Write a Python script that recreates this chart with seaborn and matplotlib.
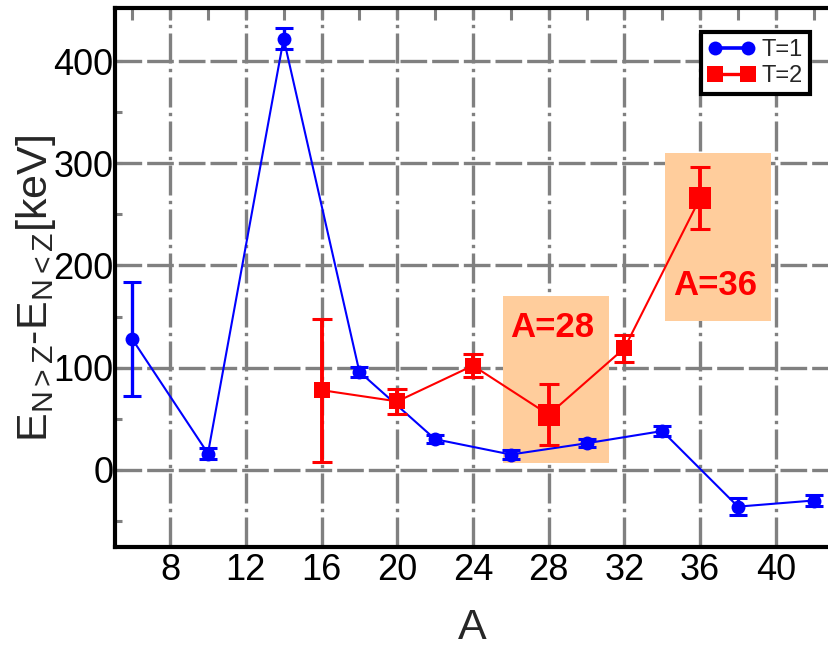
import matplotlib
matplotlib.use("Agg")
import matplotlib.pyplot as plt
import seaborn as sns
import pandas as pd
from matplotlib.lines import Line2D
from matplotlib.patches import Rectangle
from matplotlib.ticker import FixedLocator

# Mirror energy differences, T=1 and T=2 multiplets
a_t1 = [6, 10, 14, 18, 22, 26, 30, 34, 38, 42]
med_t1 = [128, 16, 422, 96, 30, 15, 26, 38, -36, -30]
err_t1 = [56, 5, 10, 5, 4, 4, 4, 5, 8, 5]

a_t2 = [16, 20, 24, 28, 32, 36]
med_t2 = [78, 67, 102, 54, 119, 266]
err_t2 = [70, 12, 11, 30, 13, 30]

series_labels = ["T=1", "T=2"]
highlight_a = [28, 36]
highlight_labels = ["A=28", "A=36"]

x_ticks = [8, 12, 16, 20, 24, 28, 32, 36, 40]
x_minor = [6, 10, 14, 18, 22, 26, 30, 34, 38, 42]
y_ticks = [0, 100, 200, 300, 400]
y_minor = [-50, 50, 150, 250, 350]

BLUE = "#0000ff"
RED = "#ff0000"
GRID = "#808080"
HIGHLIGHT = "#ffcd9c"

sns.set_theme(style="white")
plt.rcParams["font.family"] = ["Liberation Sans", "DejaVu Sans"]
plt.rcParams["mathtext.fontset"] = "custom"
plt.rcParams["mathtext.rm"] = "Liberation Sans"
plt.rcParams["mathtext.it"] = "Liberation Sans"
plt.rcParams["mathtext.bf"] = "Liberation Sans:bold"

fig = plt.figure(figsize=(8.29, 6.53), dpi=100)
ax = fig.add_axes([115 / 829, 1 - 547 / 653, 1 - 115 / 829, (547 - 8) / 653])

df1 = pd.DataFrame({"A": a_t1, "E": med_t1, "err": err_t1})
df2 = pd.DataFrame({"A": a_t2, "E": med_t2, "err": err_t2})

# grid drawn manually so horizontal and vertical lines get their own dash styles
for yv in y_ticks:
    ax.axhline(yv, color=GRID, lw=2.4, ls=(0, (8, 1.5)), zorder=0.5)
for xv in x_ticks:
    ax.axvline(xv, color=GRID, lw=2.4, ls=(0, (9, 1.6, 1, 1.6)), zorder=0.5)

# highlighted regions
boxes = {28: (25.6, 6.6, 5.6, 163.4), 36: (34.15, 146.0, 5.6, 164.0)}
text_pos = {28: (28.2, 139), 36: (36.8, 180)}
for a, lab in zip(highlight_a, highlight_labels):
    x0, y0, w, h = boxes[a]
    ax.add_patch(Rectangle((x0, y0), w, h, facecolor=HIGHLIGHT, edgecolor="none", zorder=1))
    tx, ty = text_pos[a]
    ax.text(tx, ty, lab, color=RED, fontsize=25, ha="center", va="center",
            fontweight="bold", zorder=6)

# T=1 series
sns.lineplot(data=df1, x="A", y="E", color=BLUE, lw=1.5, marker="o", markersize=10,
             markeredgewidth=0, ax=ax, zorder=3, legend=False)
ax.errorbar(df1["A"], df1["E"], yerr=df1["err"], fmt="none", ecolor=BLUE,
            elinewidth=2.4, capsize=6.5, capthick=2.2, zorder=3)

# T=2 series
sns.lineplot(data=df2, x="A", y="E", color=RED, lw=1.5, ax=ax, zorder=4, legend=False)
big = df2["A"].isin(highlight_a)
ax.errorbar(df2["A"], df2["E"], yerr=df2["err"], fmt="none", ecolor=RED,
            elinewidth=2.8, capsize=7.5, capthick=2.2, zorder=4)
ax.plot(df2["A"][~big], df2["E"][~big], ls="none", marker="s", markersize=11,
        color=RED, markeredgewidth=0, zorder=5)
ax.plot(df2["A"][big], df2["E"][big], ls="none", marker="s", markersize=16,
        color=RED, markeredgewidth=0, zorder=5)

ax.set_xlim(5.09, 42.81)
ax.set_ylim(-75.5, 452)

ax.xaxis.set_major_locator(FixedLocator(x_ticks))
ax.xaxis.set_minor_locator(FixedLocator(x_minor))
ax.yaxis.set_major_locator(FixedLocator(y_ticks))
ax.yaxis.set_minor_locator(FixedLocator(y_minor))
ax.set_xticklabels([str(v) for v in x_ticks])
ax.set_yticklabels([str(v) for v in y_ticks])

ax.tick_params(axis="both", which="both", direction="in", color=GRID, width=2.2,
               labelsize=26, labelcolor="black")
ax.tick_params(axis="x", which="both", top=True, length=8.5, pad=4)
ax.tick_params(axis="y", which="both", left=True, length=5, pad=1)

for side in ["left", "bottom", "top"]:
    ax.spines[side].set_color("black")
    ax.spines[side].set_linewidth(3)
ax.spines["right"].set_visible(False)

ax.set_xlabel("A", fontsize=31, labelpad=15)
ax.set_ylabel(r"$\mathregular{E_{N>Z}}$-$\mathregular{E_{N<Z}}$[keV]", fontsize=31)
ax.yaxis.set_label_coords(-0.08, 0.48)

handles = [
    Line2D([0], [0], color=BLUE, lw=2.6, marker="o", markersize=10, markeredgewidth=0),
    Line2D([0], [0], color=RED, lw=2.4, marker="s", markersize=11, markeredgewidth=0),
]
leg = ax.legend(handles, series_labels, loc="upper right",
                bbox_to_anchor=(0.973, 0.955), borderaxespad=0, numpoints=2,
                fontsize=17, handlelength=2.0, handletextpad=0.25,
                borderpad=0.3, labelspacing=0.15, fancybox=False, framealpha=1)
leg.get_frame().set_edgecolor("black")
leg.get_frame().set_linewidth(3)
leg.set_zorder(10)

fig.savefig("out.png", dpi=100)
